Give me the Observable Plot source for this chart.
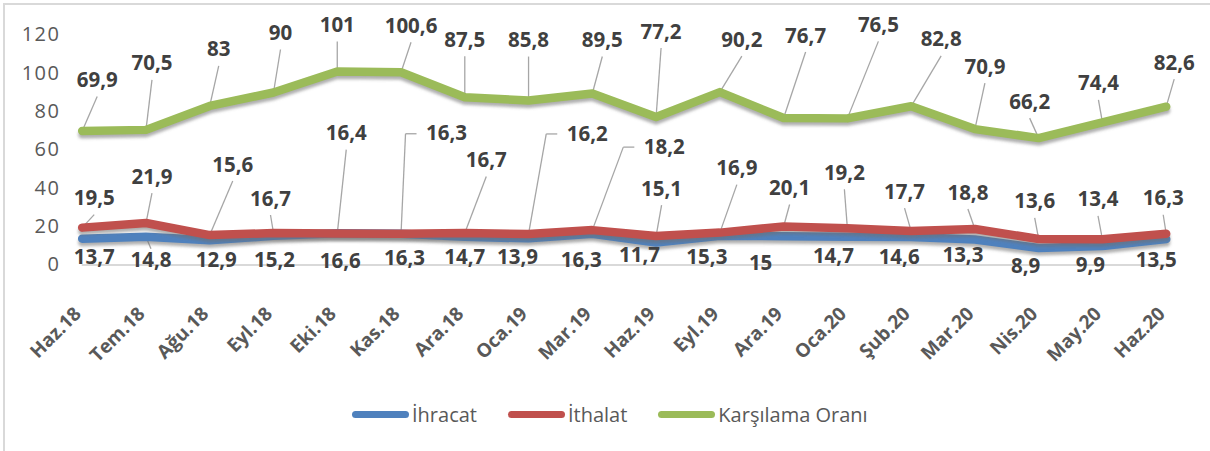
<!DOCTYPE html>
<html><head><meta charset="utf-8">
<script src="https://cdn.jsdelivr.net/npm/d3@7"></script>
<script src="https://cdn.jsdelivr.net/npm/@observablehq/plot@0.6"></script>
<style>
html,body{margin:0;padding:0;background:#fff;overflow:hidden;}
#wrap{position:relative;width:1210px;height:451px;overflow:hidden;}
#border{position:absolute;left:3px;top:3px;width:1400px;height:700px;border:2px solid #d9d9d9;box-sizing:border-box;pointer-events:none}
#chart{position:absolute;left:0;top:0}
#legend{position:absolute;left:0;top:400px;height:28px;display:flex;align-items:center;padding-left:352px;font-family:"Open Sans",sans-serif;font-size:20px;color:#595959}
.item{display:flex;align-items:center;margin-right:31px}
.sw{width:57px;height:7px;border-radius:4px;margin-right:3px}
</style></head><body>
<div id="wrap"><div id="border"></div><div id="chart"></div><div id="legend"></div></div>
<script>
// ---- data ----
const months = ["Haz.18","Tem.18","Ağu.18","Eyl.18","Eki.18","Kas.18","Ara.18","Oca.19","Mar.19","Haz.19","Eyl.19","Ara.19","Oca.20","Şub.20","Mar.20","Nis.20","May.20","Haz.20"];
const ihracat = [13.7,14.8,12.9,15.2,16.6,16.3,14.7,13.9,16.3,11.7,15.3,15,14.7,14.6,13.3,8.9,9.9,13.5];
const ithalat = [19.5,21.9,15.6,16.7,16.4,16.3,16.7,16.2,18.2,15.1,16.9,20.1,19.2,17.7,18.8,13.6,13.4,16.3];
const karsilama = [69.9,70.5,83,90,101,100.6,87.5,85.8,89.5,77.2,90.2,76.7,76.5,82.8,70.9,66.2,74.4,82.6];
const seriesNames = ["İhracat","İthalat","Karşılama Oranı"];
const yTicks = [0,20,40,60,80,100,120];

// ---- label layout (pixel offsets of each data label from its point) ----
const blueOff = [[12,18.5],[5,24],[6.6,20],[1,25],[3,28],[3.5,25],[0,21],[-11,19],[-11,27],[-16.5,13],[-13,22],[-23,27],[-14,20],[-12,20],[-12,16],[-13,18],[-12,19.5],[-10,21.5]];
const redOff = [[12,-29],[6,-46],[23,-70],[-3,-34],[9,-100],[45.5,-100],[21.5,-72.5],[58.7,-100],[72,-83],[5.5,-47],[17,-64],[6,-38],[-3,-55],[-6.6,-39],[-7,-36],[-4,-37],[-4.4,-39.5],[-3,-35]];
const greenOff = [[15,-50.5],[6,-66],[9,-56],[7,-59],[0,-46],[10,-46],[0,-57],[0,-60],[10,-53],[5,-85],[22,-52],[22,-82],[31,-93],[30,-66.5],[10,-62],[-9,-36],[-4,-38.6],[8,-43.5]];
const redElbow = [5,7,8];
const blueLeader = [1];
const colors = ["#4F81BD","#C0504D","#9BBB59"];

const W = 1210, H = 385, mL = 81.7, mR = 44.3, mT = 34.5, mB = 120.5;
const xUnit = (W - mL - mR) / (months.length - 1);
const yUnit = (H - mT - mB) / 120;

function labelRows(vals, offs) {
  return vals.map((v, i) => ({i, v, lx: i + offs[i][0] / xUnit, ly: v - offs[i][1] / yUnit, t: String(v).replace(".", ",")}));
}
const blueRows = labelRows(ihracat, blueOff);
const redRows = labelRows(ithalat, redOff);
const greenRows = labelRows(karsilama, greenOff);

const leaders = [];
for (const r of greenRows) leaders.push({x1: r.lx, y1: r.ly - 16 / yUnit, x2: r.i, y2: r.v});
for (const r of redRows) {
  if (redElbow.includes(r.i)) {
    const xa = r.lx - 30 / xUnit, xb = r.lx - 41 / xUnit;
    leaders.push({x1: xa, y1: r.ly, x2: xb, y2: r.ly});
    leaders.push({x1: xb, y1: r.ly, x2: r.i, y2: r.v});
  } else {
    leaders.push({x1: r.lx, y1: r.ly - 16 / yUnit, x2: r.i, y2: r.v});
  }
}
for (const r of blueRows) if (blueLeader.includes(r.i)) leaders.push({x1: r.lx, y1: r.ly + 12 / yUnit, x2: r.i, y2: r.v});

const allVals = [ihracat, ithalat, karsilama];
const lineMarks = [];
allVals.forEach((vals, k) => {
  lineMarks.push(Plot.lineY(vals, {x: (d, i) => i, y: d => d, stroke: "#6f6f6f", strokeOpacity: 0.55, strokeWidth: 8, dy: 3.5, strokeLinejoin: "round"}));
  lineMarks.push(Plot.lineY(vals, {x: (d, i) => i, y: d => d, stroke: colors[k], strokeWidth: 8.5, strokeLinejoin: "round"}));
});

const labelStyle = {x: "lx", y: "ly", text: "t", fill: "#404040", fontSize: 20.5, fontWeight: "bold", fontFamily: "Open Sans"};

const svg = Plot.plot({
  width: W, height: H,
  marginLeft: mL, marginRight: mR, marginTop: mT, marginBottom: mB,
  style: {fontFamily: "Open Sans", background: "transparent"},
  x: {type: "linear", domain: [0, months.length - 1], axis: null},
  y: {domain: [0, 120], axis: null},
  marks: [
    Plot.ruleY([0], {stroke: "#d9d9d9", strokeWidth: 2}),
    Plot.axisY(yTicks, {tickSize: 0, tickPadding: 21.7, fontSize: 20, color: "#595959", label: null, fontFamily: "Open Sans"}),
    Plot.link(leaders, {x1: "x1", y1: "y1", x2: "x2", y2: "y2", stroke: "#a6a6a6", strokeWidth: 1.3}),
    ...lineMarks,
    Plot.text(blueRows, labelStyle),
    Plot.text(redRows, labelStyle),
    Plot.text(greenRows, labelStyle),
    Plot.text(months, {x: (d, i) => i, y: () => 0, textAnchor: "end", text: d => d, fill: "#595959", fontSize: 19, fontWeight: "bold", fontFamily: "Open Sans"})
  ]
});

// soft shadow blur
const sel = d3.select(svg);
const defs = sel.insert("defs", ":first-child");
defs.append("filter").attr("id", "blurShadow").attr("x", "-5%").attr("y", "-50%").attr("width", "110%").attr("height", "200%")
  .append("feGaussianBlur").attr("stdDeviation", 1.6);
sel.selectAll('g[aria-label="line"]').each(function(_, j) { if (j % 2 === 0) d3.select(this).attr("filter", "url(#blurShadow)"); });
sel.selectAll('g[aria-label="y-axis tick label"] text').style("letter-spacing", "1.5px").style("font-size", "20px");
// rotate the month tick labels (last text group) with a CSS transform, anchored at end, 50px below the axis
const textGroups = sel.selectAll('g[aria-label="text"]').nodes();
const monthGroup = d3.select(textGroups[textGroups.length - 1]);
monthGroup.selectAll("text").each(function() {
  const t = d3.select(this);
  const tr = t.attr("transform") || "";
  const m = /translate\(([-\d.e]+),\s*([-\d.e]+)\)/.exec(tr);
  const x0 = m ? +m[1] : +(t.attr("x") || 0);
  const y0 = m ? +m[2] : +(t.attr("y") || 0);
  t.attr("x", null).attr("y", null).attr("transform", null);
  t.style("transform-origin", "0 0").style("transform", `translate(${x0}px, ${y0 + 50}px) rotate(-45deg)`);
});

document.getElementById("chart").appendChild(svg);

const legend = document.getElementById("legend");
seriesNames.forEach((n, k) => {
  const it = document.createElement("div"); it.className = "item";
  const sw = document.createElement("span"); sw.className = "sw"; sw.style.background = colors[k];
  const tx = document.createElement("span"); tx.textContent = n;
  it.appendChild(sw); it.appendChild(tx); legend.appendChild(it);
});
</script>
</body></html>
